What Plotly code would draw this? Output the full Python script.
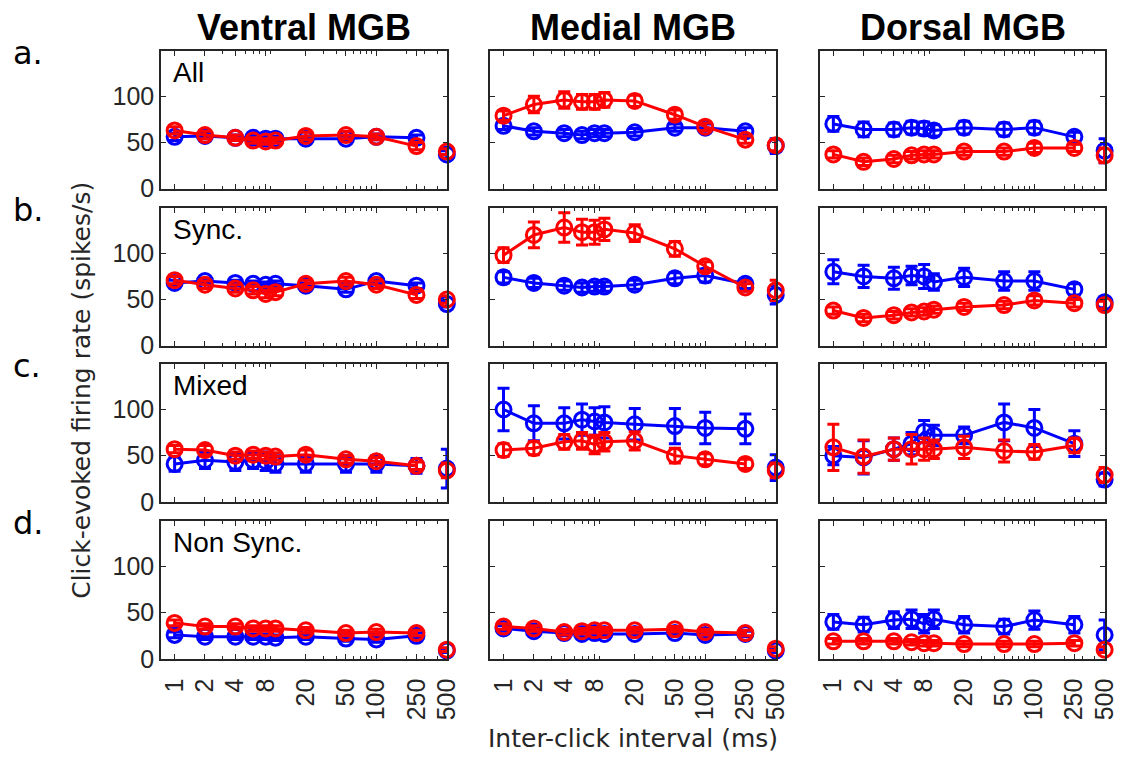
import plotly.graph_objects as go

# ---------------- data ----------------
ICI = [1, 2, 4, 6, 8, 10, 20, 50, 100, 250, 500]
XTICKS = [1, 2, 4, 8, 20, 50, 100, 250, 500]
XTICK_TEXT = ["1", "2", "4", "8", "20", "50", "100", "250", "500"]
XMINOR = [3, 5, 6, 7, 9, 30, 40, 60, 70, 80, 90, 200, 300, 400]
YTICKS = [0, 50, 100]

COLUMNS = ["Ventral MGB", "Medial MGB", "Dorsal MGB"]
ROWS = ["All", "Sync.", "Mixed", "Non Sync."]
ROW_LETTERS = ["a.", "b.", "c.", "d."]

# Row a: All
ventral_all_blue = [56, 57, 55, 55, 54, 54, 54, 54, 56, 55, 37]
ventral_all_blue_err = [4, 3, 3, 3, 3, 3, 3, 3, 3, 3, 4]
ventral_all_red = [63, 58, 55, 52, 51, 52, 57, 58, 56, 46, 40]
ventral_all_red_err = [4, 4, 3, 3, 3, 3, 4, 4, 3, 4, 3]
medial_all_blue = [68, 62, 60, 58, 60, 60, 61, 66, 66, 62, 46]
medial_all_blue_err = [4, 4, 4, 4, 4, 4, 4, 4, 4, 4, 8]
medial_all_red = [79, 91, 96, 94, 94, 96, 95, 80, 67, 53, 47]
medial_all_red_err = [5, 9, 9, 8, 8, 8, 6, 5, 4, 4, 6]
dorsal_all_blue = [70, 64, 64, 66, 65, 63, 66, 64, 66, 56, 41]
dorsal_all_blue_err = [8, 8, 7, 7, 7, 6, 7, 7, 7, 5, 13]
dorsal_all_red = [37, 29, 32, 36, 37, 37, 40, 40, 44, 44, 36]
dorsal_all_red_err = [4, 4, 4, 4, 4, 4, 4, 4, 5, 4, 8]

# Row b: Sync.
ventral_sync_blue = [68, 70, 68, 67, 66, 67, 65, 61, 70, 65, 45]
ventral_sync_blue_err = [3, 3, 3, 3, 3, 3, 3, 3, 3, 3, 3]
ventral_sync_red = [71, 66, 62, 60, 56, 58, 67, 70, 66, 55, 50]
ventral_sync_red_err = [4, 4, 4, 4, 4, 4, 4, 4, 4, 4, 4]
medial_sync_blue = [74, 68, 65, 63, 64, 64, 66, 73, 76, 67, 55]
medial_sync_blue_err = [6, 5, 5, 5, 5, 5, 5, 6, 7, 5, 10]
medial_sync_red = [98, 120, 128, 123, 123, 126, 122, 105, 86, 63, 60]
medial_sync_red_err = [8, 14, 16, 14, 13, 12, 9, 8, 5, 4, 11]
dorsal_sync_blue = [80, 75, 73, 76, 75, 69, 74, 70, 70, 61, 47]
dorsal_sync_blue_err = [13, 12, 12, 10, 13, 9, 10, 10, 10, 6, 6]
dorsal_sync_red = [38, 30, 33, 36, 37, 39, 42, 44, 49, 46, 44]
dorsal_sync_red_err = [4, 4, 4, 4, 4, 4, 4, 4, 5, 4, 4]

# Row c: Mixed
ventral_mixed_blue = [41, 45, 43, 45, 44, 41, 41, 41, 41, 39, 36]
ventral_mixed_blue_err = [8, 9, 9, 9, 10, 9, 9, 9, 9, 8, 21]
ventral_mixed_red = [57, 56, 50, 51, 50, 49, 51, 46, 44, 39, 34]
ventral_mixed_red_err = [4, 5, 4, 4, 4, 4, 5, 4, 4, 4, 8]
medial_mixed_blue = [100, 85, 85, 89, 87, 86, 84, 82, 80, 79, 37]
medial_mixed_blue_err = [23, 19, 17, 17, 15, 17, 17, 19, 17, 16, 14]
medial_mixed_red = [56, 58, 65, 66, 62, 65, 66, 50, 46, 41, 34]
medial_mixed_red_err = [7, 7, 8, 9, 10, 10, 10, 8, 6, 5, 8]
dorsal_mixed_blue = [50, 48, 57, 63, 76, 72, 72, 86, 80, 63, 24]
dorsal_mixed_blue_err = [10, 18, 12, 12, 12, 11, 9, 20, 20, 14, 7]
dorsal_mixed_red = [59, 49, 57, 57, 57, 57, 59, 55, 54, 61, 29]
dorsal_mixed_red_err = [25, 18, 12, 16, 12, 10, 12, 12, 8, 8, 8]

# Row d: Non Sync.
ventral_nonsync_blue = [26, 24, 24, 24, 24, 23, 24, 22, 21, 25, 9]
ventral_nonsync_blue_err = [3, 3, 3, 3, 3, 3, 3, 3, 3, 3, 2]
ventral_nonsync_red = [39, 35, 35, 33, 33, 33, 31, 28, 29, 28, 10]
ventral_nonsync_red_err = [3, 3, 3, 3, 3, 3, 3, 3, 3, 3, 2]
medial_nonsync_blue = [33, 30, 28, 27, 28, 27, 27, 28, 26, 27, 9]
medial_nonsync_blue_err = [3, 3, 3, 3, 3, 3, 3, 3, 3, 3, 2]
medial_nonsync_red = [35, 33, 29, 30, 31, 31, 31, 32, 29, 28, 11]
medial_nonsync_red_err = [3, 3, 3, 3, 3, 3, 3, 3, 3, 3, 2]
dorsal_nonsync_blue = [40, 37, 42, 43, 38, 43, 37, 35, 42, 37, 26]
dorsal_nonsync_blue_err = [8, 8, 9, 10, 10, 10, 9, 8, 10, 9, 16]
dorsal_nonsync_red = [19, 19, 19, 18, 17, 17, 16, 16, 16, 17, 10]
dorsal_nonsync_red_err = [3, 3, 3, 3, 3, 3, 3, 3, 3, 3, 3]

PANELS = [
    [(ventral_all_blue, ventral_all_blue_err, ventral_all_red, ventral_all_red_err),
     (medial_all_blue, medial_all_blue_err, medial_all_red, medial_all_red_err),
     (dorsal_all_blue, dorsal_all_blue_err, dorsal_all_red, dorsal_all_red_err)],
    [(ventral_sync_blue, ventral_sync_blue_err, ventral_sync_red, ventral_sync_red_err),
     (medial_sync_blue, medial_sync_blue_err, medial_sync_red, medial_sync_red_err),
     (dorsal_sync_blue, dorsal_sync_blue_err, dorsal_sync_red, dorsal_sync_red_err)],
    [(ventral_mixed_blue, ventral_mixed_blue_err, ventral_mixed_red, ventral_mixed_red_err),
     (medial_mixed_blue, medial_mixed_blue_err, medial_mixed_red, medial_mixed_red_err),
     (dorsal_mixed_blue, dorsal_mixed_blue_err, dorsal_mixed_red, dorsal_mixed_red_err)],
    [(ventral_nonsync_blue, ventral_nonsync_blue_err, ventral_nonsync_red, ventral_nonsync_red_err),
     (medial_nonsync_blue, medial_nonsync_blue_err, medial_nonsync_red, medial_nonsync_red_err),
     (dorsal_nonsync_blue, dorsal_nonsync_blue_err, dorsal_nonsync_red, dorsal_nonsync_red_err)],
]

# ---------------- layout ----------------
W, H = 1137, 774
COL_PX = [(162, 452), (495, 785), (829, 1118)]
ROW_PX = [(52, 192), (212, 352), (371, 511), (531, 671)]
BLUE = "#0000ff"
RED = "#ff0000"
AXC = "#262626"
TICKFONT = dict(family="Liberation Sans, Arial", size=25, color="#262626")

fig = go.Figure()
layout = dict(width=W, height=H, margin=dict(l=0, r=0, t=0, b=0),
              paper_bgcolor="white", plot_bgcolor="white", showlegend=False)

n = 0
for r in range(4):
    for c in range(3):
        n += 1
        xa = "xaxis" if n == 1 else f"xaxis{n}"
        ya = "yaxis" if n == 1 else f"yaxis{n}"
        xref = "x" if n == 1 else f"x{n}"
        yref = "y" if n == 1 else f"y{n}"
        x0, x1 = COL_PX[c]
        y0, y1 = ROW_PX[r]
        layout[xa] = dict(
            domain=[x0 / W, x1 / W], anchor=yref, type="log",
            range=[-0.135, 2.705], tickmode="array", tickvals=XTICKS,
            ticktext=XTICK_TEXT, showticklabels=(r == 3), tickangle=-90,
            ticklabelstandoff=8,
            ticks="inside", ticklen=5, tickwidth=1.2, tickcolor=AXC,
            minor=dict(tickmode="array", tickvals=XMINOR, ticks="inside",
                       ticklen=3, tickwidth=1, tickcolor=AXC),
            showline=True, linecolor=AXC, linewidth=1.5, mirror="ticks",
            showgrid=False, zeroline=False, tickfont=TICKFONT)
        layout[ya] = dict(
            domain=[1 - y1 / H, 1 - y0 / H], anchor=xref,
            range=[0, 149], tickmode="array", tickvals=YTICKS,
            showticklabels=(c == 0), ticks="inside", ticklen=5,
            tickwidth=1.2, tickcolor=AXC, showline=True, linecolor=AXC,
            linewidth=1.5, mirror="ticks", showgrid=False, zeroline=False,
            tickfont=TICKFONT)
        blue, blue_err, red, red_err = PANELS[r][c]
        for vals, errs, col in ((blue, blue_err, BLUE), (red, red_err, RED)):
            mk = dict(symbol="circle-open", size=15, color=col,
                      line=dict(color=col, width=3))
            # connected points (1..250 ms)
            fig.add_trace(go.Scatter(
                x=ICI[:-1], y=vals[:-1], xaxis=xref, yaxis=yref,
                mode="lines+markers", cliponaxis=False,
                line=dict(color=col, width=3), marker=mk,
                error_y=dict(type="data", array=errs[:-1], color=col,
                             thickness=3, width=6)))
            # isolated point at 500 ms
            fig.add_trace(go.Scatter(
                x=ICI[-1:], y=vals[-1:], xaxis=xref, yaxis=yref,
                mode="markers", cliponaxis=False, marker=mk,
                error_y=dict(type="data", array=errs[-1:], color=col,
                             thickness=3, width=6)))

annotations = []
for c, name in enumerate(COLUMNS):
    x0, x1 = COL_PX[c]
    annotations.append(dict(text=f"<b>{name}</b>", x=(x0 + x1) / 2 / W,
                            y=1 - 28 / H, xref="paper", yref="paper",
                            showarrow=False, xanchor="center", yanchor="middle",
                            font=dict(family="Liberation Sans, Arial", size=36,
                                      color="black")))
for r, lab in enumerate(ROWS):
    y0, _ = ROW_PX[r]
    annotations.append(dict(text=lab, x=172 / W, y=1 - (y0 + 22) / H,
                            xref="paper", yref="paper", showarrow=False,
                            xanchor="left", yanchor="middle",
                            font=dict(family="Liberation Sans, Arial", size=28,
                                      color="black")))
    annotations.append(dict(text=ROW_LETTERS[r], x=10 / W, y=1 - (y0 + 2) / H,
                            xref="paper", yref="paper", showarrow=False,
                            xanchor="left", yanchor="middle",
                            font=dict(family="DejaVu Sans", size=32,
                                      color="black")))
annotations.append(dict(text="Click-evoked firing rate (spikes/s)", x=82 / W,
                        y=1 - 397 / H, xref="paper", yref="paper",
                        showarrow=False, textangle=-90, xanchor="center",
                        yanchor="middle",
                        font=dict(family="DejaVu Sans", size=25,
                                  color="#262626")))
annotations.append(dict(text="Inter-click interval (ms)", x=640 / W,
                        y=1 - 752 / H, xref="paper", yref="paper",
                        showarrow=False, xanchor="center", yanchor="middle",
                        font=dict(family="DejaVu Sans", size=25,
                                  color="#262626")))
layout["annotations"] = annotations
fig.update_layout(**layout)
fig.write_html("out.html")
